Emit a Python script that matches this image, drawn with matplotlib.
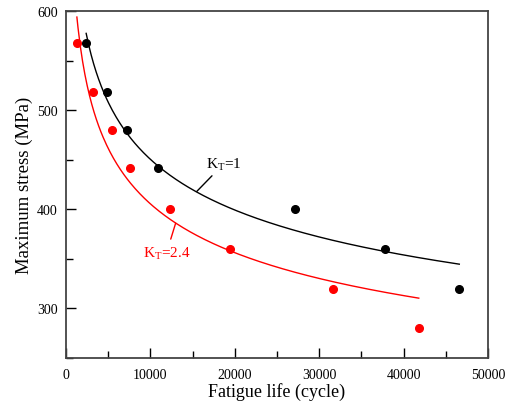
import matplotlib
matplotlib.use('Agg')
from matplotlib import pyplot as plt
import numpy as np

# data points
life_kt1 = [2370, 4860, 7230, 10900, 27100, 37800, 46600]
stress_kt1 = [568, 518, 480, 442, 400, 360, 320]
life_kt24 = [1300, 3200, 5450, 7580, 12300, 19430, 31600, 41800]
stress_kt24 = [568, 518, 480, 442, 400, 360, 320, 280]

# fitted curves S = A * N^b  (A, b, N start, N end)
fit_kt1 = (2237, -0.174, 2400, 46600)
fit_kt24 = (2270, -0.187, 1300, 41800)

plt.rcParams['font.family'] = ['Liberation Serif', 'DejaVu Serif']

fig = plt.figure(figsize=(5.07, 4.06), dpi=100)
ax = fig.add_axes([0.130, 0.1158, 0.8325, 0.8546])

for (A, b, n0, n1), col in [(fit_kt1, 'black'), (fit_kt24, 'red')]:
    n = np.linspace(n0, n1, 300)
    ax.plot(n, A * n ** b, color=col, lw=1.0)

ax.plot(life_kt1, stress_kt1, 'o', color='black', ms=5.5)
ax.plot(life_kt24, stress_kt24, 'o', color='red', ms=5.5)

# labels with leader lines
ax.annotate('K$_\\mathregular{T}$=1', xy=(15500, 418), xytext=(16600, 446),
            fontsize=11, color='black', va='center',
            arrowprops=dict(arrowstyle='-', color='black', lw=1.0, shrinkA=1, shrinkB=0))
ax.annotate('K$_\\mathregular{T}$=2.4', xy=(13000, 386), xytext=(9100, 356),
            fontsize=11, color='red', va='center',
            arrowprops=dict(arrowstyle='-', color='red', lw=1.0, shrinkA=2, shrinkB=0))

ax.set_xlim(0, 50000)
ax.set_ylim(250, 600)
ax.set_xticks([0, 10000, 20000, 30000, 40000, 50000])
ax.set_xticks(np.arange(0, 50001, 5000), minor=True)
ax.set_yticks([300, 400, 500, 600])
ax.set_yticks(np.arange(250, 601, 50), minor=True)
ax.tick_params(which='both', direction='in', top=False, right=False, labelsize=10)
ax.tick_params(axis='x', pad=7)
ax.tick_params(axis='y', pad=6)
ax.tick_params(which='major', length=7, width=1)
ax.tick_params(which='minor', length=5, width=1)
for s in ax.spines.values():
    s.set_color('#444444')
    s.set_linewidth(1.3)

ax.set_xlabel('Fatigue life (cycle)', fontsize=13, labelpad=1)
ax.set_ylabel('Maximum stress (MPa)', fontsize=13.5, labelpad=3)

fig.savefig('out.png', dpi=100)
